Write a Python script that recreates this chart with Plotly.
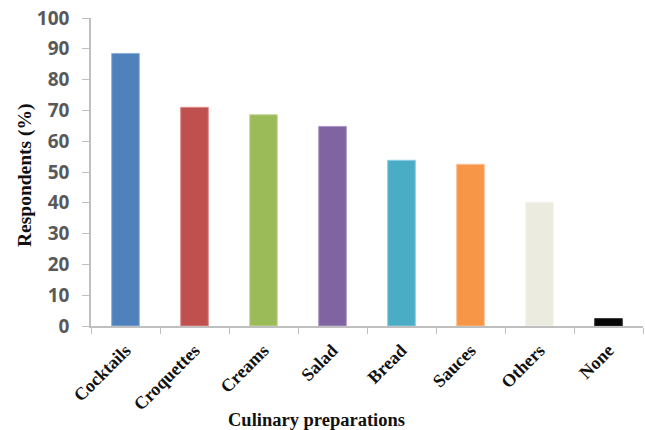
import plotly.graph_objects as go

# Share of respondents using each culinary preparation
categories = ["Cocktails", "Croquettes", "Creams", "Salad", "Bread", "Sauces", "Others", "None"]
values = [88.5, 71.0, 68.6, 64.8, 53.8, 52.5, 40.2, 2.4]
colors = ["#4F81BD", "#C0504D", "#9BBB59", "#8064A2", "#4BACC6", "#F79646", "#ECEBE0", "#050505"]
edge_colors = ["#8EAEDB", "#DB8E8C", "#C3D99A", "#AC98C6", "#8ACDE0", "#FBC096", "#F4F3EC", "#333333"]
y_ticks = [0, 10, 20, 30, 40, 50, 60, 70, 80, 90, 100]

fig = go.Figure(
    go.Bar(
        x=categories,
        y=values,
        width=0.4,
        marker=dict(color=colors, line=dict(color=edge_colors, width=1)),
    )
)

fig.update_layout(
    width=645,
    height=430,
    margin=dict(l=91, r=2, t=18, b=104),
    plot_bgcolor="white",
    paper_bgcolor="white",
    showlegend=False,
    xaxis=dict(
        type="category",
        showline=True,
        linecolor="#BFBFBF",
        linewidth=1.5,
        ticks="outside",
        tickson="boundaries",
        ticklen=6,
        tickcolor="#BFBFBF",
        tickangle=-45,
        tickfont=dict(family="Liberation Serif", size=18, color="#111111", weight="bold"),
        ticklabelstandoff=5,
        showgrid=False,
        zeroline=False,
    ),
    yaxis=dict(
        range=[0, 100],
        tickvals=y_ticks,
        showline=True,
        linecolor="#BFBFBF",
        linewidth=1.5,
        ticks="outside",
        ticklen=7,
        tickcolor="#BFBFBF",
        tickfont=dict(family="Open Sans", size=19, color="#595959", weight="bold"),
        ticklabelstandoff=9,
        showgrid=False,
        zeroline=False,
    ),
    annotations=[
        dict(
            text="Culinary preparations",
            x=316, y=420, xref="paper", yref="paper",
            showarrow=False,
            font=dict(family="Liberation Serif", size=18.5, color="#111111", weight="bold"),
        ),
        dict(
            text="Respondents (%)",
            x=25, y=175, xref="paper", yref="paper",
            textangle=-90,
            showarrow=False,
            font=dict(family="Liberation Serif", size=19.5, color="#111111", weight="bold"),
        ),
    ],
)

# Axis titles are placed in pixel coordinates converted to paper fractions
plot_w = 645 - 91 - 2
plot_h = 430 - 18 - 104
for ann in fig.layout.annotations:
    ann.x = (ann.x - 91) / plot_w
    ann.y = (430 - 104 - ann.y) / plot_h
    ann.xanchor = "center"
    ann.yanchor = "middle"

fig.write_html("out.html")
